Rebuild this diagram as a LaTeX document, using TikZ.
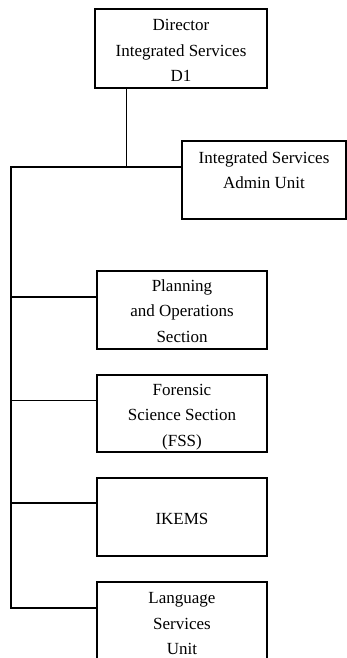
\documentclass[tikz,border=0pt]{standalone}
\usepackage{fontspec}
\setmainfont{Liberation Serif}
\begin{document}
\begin{tikzpicture}[x=1pt,y=-1pt,
  unitbox/.style={draw=black,line width=2pt,fill=white,inner sep=0pt},
  headbox/.style={unitbox,line width=2.6pt},
  boxtext/.style={align=center,inner sep=0pt,
    font=\fontsize{17}{25.5}\selectfont},
  trunk/.style={draw=black,line width=2pt},
  thinline/.style={draw=black,line width=1pt}]
\useasboundingbox (0,0) rectangle (347,658);
\clip (0,0) rectangle (347,658);

% boxes
\node[headbox,minimum width=172pt,minimum height=79pt] (dir) at (181,48.5) {};
\node[unitbox,minimum width=164pt,minimum height=78pt] (admin) at (264,180) {};
\node[unitbox,minimum width=170pt,minimum height=78pt] (plan) at (182,310) {};
\node[unitbox,minimum width=170pt,minimum height=77pt] (fss) at (182,413.5) {};
\node[unitbox,minimum width=170pt,minimum height=78pt] (ikems) at (182,517) {};
\node[unitbox,minimum width=170pt,minimum height=78pt] (lang) at (182,621) {};

% box texts
\node[boxtext] (dirtext) at ([yshift=-2pt]dir.center)
  {Director\\Integrated Services\\D1};
\node[boxtext] (admintext) at ([yshift=10pt]admin.center)
  {Integrated Services\\Admin Unit};
\node[boxtext] (plantext) at ([yshift=-1pt]plan.center)
  {Planning\\and Operations\\Section};
\node[boxtext] (fsstext) at ([yshift=-3.5pt]fss.center)
  {Forensic\\Science Section\\(FSS)};
\node[boxtext] (ikemstext) at ([yshift=-2pt]ikems.center) {IKEMS};
\node[boxtext] (langtext) at ([yshift=-3pt]lang.center)
  {Language\\Services\\Unit};

% junction points on the trunk
\coordinate (j) at (126,167);
\coordinate (ttop) at (11,167);
\coordinate (tplan) at (11,297);
\coordinate (tfss) at (11,400);
\coordinate (tikems) at (11,503);
\coordinate (tbot) at (11,608);

% connectors
\draw[thinline] (dir.south -| j) -- (j);
\draw[trunk] (ttop -| admin.west) -- (ttop) -- (tbot) -- (tbot -| lang.west);
\draw[trunk] (tplan) -- (tplan -| plan.west);
\draw[thinline] (tfss) -- (tfss -| fss.west);
\draw[trunk] (tikems) -- (tikems -| ikems.west);
\end{tikzpicture}
\end{document}
